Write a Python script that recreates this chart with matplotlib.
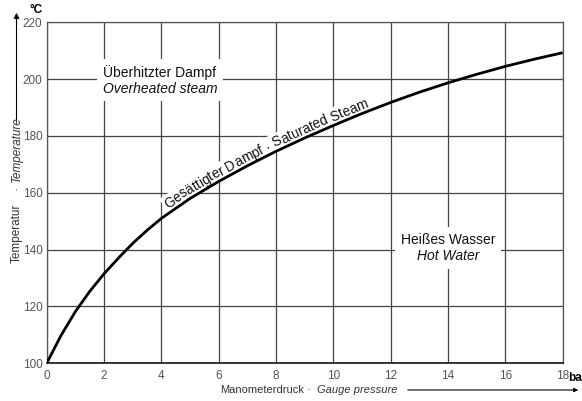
import numpy as np
import matplotlib
matplotlib.use("Agg")
import matplotlib.pyplot as plt
from matplotlib.font_manager import FontProperties
from matplotlib.textpath import text_to_path
from matplotlib.transforms import IdentityTransform

plt.rcParams['font.family'] = ['Liberation Sans', 'DejaVu Sans']

# values
pressure = [0, 0.5, 1, 1.5, 2, 2.5, 3, 3.5, 4, 5, 6, 7, 8, 9, 10, 11, 12, 13, 14, 15, 16, 17, 18]
temperature = [100, 109.8, 118.2, 125.3, 131.5, 137.0, 142.2, 146.8, 151.0, 158.0, 164.0, 169.5,
               174.6, 179.3, 183.7, 187.9, 191.8, 195.4, 198.7, 201.7, 204.5, 207.0, 209.3]
x_ticks = [0, 2, 4, 6, 8, 10, 12, 14, 16, 18]
y_ticks = [100, 120, 140, 160, 180, 200, 220]
curve_label = 'Gesättigter Dampf · Saturated Steam'

W, H = 582, 401
fig = plt.figure(figsize=(W / 100, H / 100), dpi=100)
ax = fig.add_axes([46.7 / W, (H - 363.3) / H, 516 / W, 341 / H])

ax.set_xlim(0, 18)
ax.set_ylim(100, 220)
ax.set_xticks(x_ticks)
ax.set_yticks(y_ticks)
ax.tick_params(length=0, labelsize=8.5, colors='#555555')
ax.tick_params(axis='x', pad=5)
ax.tick_params(axis='y', pad=3)
ax.grid(True, color='#444444', lw=0.9)
ax.set_axisbelow(True)
for s in ['top', 'right', 'left']:
    ax.spines[s].set_color('#555555')
    ax.spines[s].set_linewidth(0.9)
ax.spines['bottom'].set_color('black')
ax.spines['bottom'].set_linewidth(1.1)

ax.plot(pressure, temperature, color='black', lw=2, zorder=5, solid_capstyle='butt')


def label(x, y, s, **kw):
    # white patch behind the text, then the text itself on top
    ax.text(x, y, s, ha='center', va='center', fontsize=10, color='none',
            bbox=dict(facecolor='white', edgecolor='none', pad=4), zorder=3, **kw)
    ax.text(x, y, s, ha='center', va='center', fontsize=10, color='#111111', zorder=4, **kw)


label(3.95, 202.4, 'Überhitzter Dampf')
label(3.95, 196.7, 'Overheated steam', style='italic')
label(14.0, 143.4, 'Heißes Wasser')
label(14.0, 137.6, 'Hot Water', style='italic')

# label bent along the curve, placed letter by letter
fs = 9.8
prop = FontProperties(family='Liberation Sans', size=fs)
px = IdentityTransform()


def tw(s):
    w, _, _ = text_to_path.get_text_width_height_descent(s + '|', prop, ismath=False)
    w0, _, _ = text_to_path.get_text_width_height_descent('|', prop, ismath=False)
    return (w - w0) * 100 / 72.0


pts = ax.transData.transform(np.column_stack([pressure, temperature]))
seg = np.hypot(np.diff(pts[:, 0]), np.diff(pts[:, 1]))
arc = np.concatenate([[0], np.cumsum(seg)])


def at(s):
    return np.interp(s, arc, pts[:, 0]), np.interp(s, arc, pts[:, 1])


total = tw(curve_label)
mid_x = ax.transData.transform((7.7, 173))[0]
s_mid = np.interp(mid_x, pts[:, 0], arc)
s0 = s_mid - total / 2
gap = 4.0
for i, ch in enumerate(curve_label):
    s = s0 + tw(curve_label[:i]) + tw(ch) / 2
    xa, ya = at(s - 15)
    xb, yb = at(s + 15)
    ang = np.arctan2(yb - ya, xb - xa)
    xc, yc = at(s)
    xc -= gap * np.sin(ang)
    yc += gap * np.cos(ang)
    kw = dict(ha='center', va='baseline', rotation=np.degrees(ang), rotation_mode='anchor',
              fontproperties=prop, transform=px, clip_on=False)
    ax.text(xc, yc, ch, color='none', zorder=3,
            bbox=dict(facecolor='white', edgecolor='none', pad=1.5), **kw)
    ax.text(xc, yc, ch, color='#111111', zorder=4, **kw)

# units
fig.text(29 / W, (H - 10) / H, '°C', ha='left', va='center', fontsize=8.5, fontweight='bold')
fig.text(568 / W, (H - 378) / H, 'bar', ha='left', va='center', fontsize=8.5, fontweight='bold')

# y axis label with arrow
fig.text(16.5 / W, (H - 263) / H, 'Temperatur', rotation=90, ha='center', va='bottom',
         fontsize=8.5, color='#333333')
fig.text(16.5 / W, (H - 188) / H, '·', rotation=90, ha='center', va='center',
         fontsize=8.5, color='#333333')
fig.text(16.5 / W, (H - 182) / H, 'Temperature', rotation=90, ha='center', va='bottom',
         fontsize=8.5, color='#333333', style='italic')
ax.annotate('', xy=(16.5, H - 10), xytext=(16.5, H - 124), xycoords='figure pixels',
            arrowprops=dict(arrowstyle='-|>', color='black', lw=0.8, mutation_scale=8))

# x axis label with arrow
fig.text(220 / W, 11 / H, 'Manometerdruck', ha='left', va='center', fontsize=8, color='#333333')
fig.text(308 / W, 11 / H, '·', ha='center', va='center', fontsize=8, color='#333333')
fig.text(317 / W, 11 / H, 'Gauge pressure', ha='left', va='center', fontsize=8,
         color='#333333', style='italic')
ax.annotate('', xy=(581, 11), xytext=(405, 11), xycoords='figure pixels',
            arrowprops=dict(arrowstyle='-|>', color='black', lw=0.8, mutation_scale=6))

fig.savefig('out.png', dpi=100)
